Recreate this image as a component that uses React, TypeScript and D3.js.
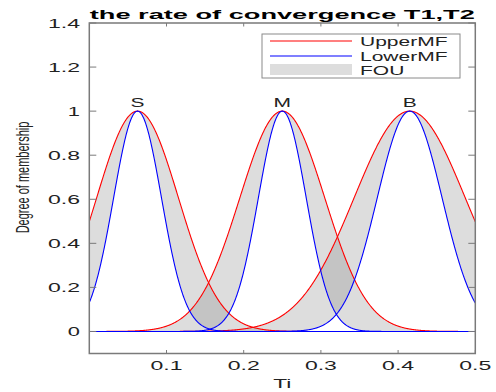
import React from "react";
import * as d3 from "d3";

// Membership-function parameters
const mfNames = ["S", "M", "B"];
const centers = [0.0625, 0.25, 0.415];
const upperSigmas = [0.053, 0.055, 0.072];
const lowerSigmas = [0.031, 0.031, 0.042];

const xTicks = [0.1, 0.2, 0.3, 0.4, 0.5];
const xTickLabels = ["0.1", "0.2", "0.3", "0.4", "0.5"];
const yTicks = [0, 0.2, 0.4, 0.6, 0.8, 1, 1.2, 1.4];
const yTickLabels = ["0", "0.2", "0.4", "0.6", "0.8", "1", "1.2", "1.4"];
const legendLabels = ["UpperMF", "LowerMF", "FOU"];

const W = 496;
const H = 392;
const SX = 1.75;
const FONT = "'Liberation Sans', Arial, sans-serif";

const L = 89.3, R = 475.3, T = 23, B = 353.5;

const x = d3.scaleLinear().domain([0, 0.5]).range([L, R]);
const y = d3.scaleLinear().domain([-0.1, 1.4]).range([B, T]);

const gauss = (v: number, c: number, s: number) => Math.exp(-((v - c) ** 2) / (2 * s * s));
const xs = d3.range(0, 0.5 + 1e-9, 0.0005);

function Txt(props: any) {
  const { x: px, y: py, anchor = "start", size = 12.5, weight = "normal", fill = "#222", rotate = 0, textLength, children } = props;
  const tr = `translate(${px},${py}) scale(${SX},1)` + (rotate ? ` rotate(${rotate})` : "");
  return (
    <text
      transform={tr}
      textAnchor={anchor}
      fontSize={size}
      fontWeight={weight}
      fontFamily={FONT}
      fill={fill}
      textLength={textLength}
      lengthAdjust={textLength ? "spacingAndGlyphs" : undefined}
    >
      {children}
    </text>
  );
}

const tickLen = (s: string) => (s.length >= 3 ? 32 / SX : undefined);

export default function App() {
  const line = d3.line<number[]>().x((d) => x(d[0])).y((d) => y(d[1]));
  const area = d3
    .area<number[]>()
    .x((d) => x(d[0]))
    .y0((d) => y(d[1]))
    .y1((d) => y(d[2]));

  const mfs = centers.map((c, i) => {
    const pts = xs.map((v) => [v, gauss(v, c, upperSigmas[i]), gauss(v, c, lowerSigmas[i])]);
    return {
      upper: line(pts.map((p) => [p[0], p[1]])) || "",
      lower: line(pts.map((p) => [p[0], p[2]])) || "",
      fou: area(pts) || "",
    };
  });

  const axisColor = "#7a7a7a";

  return (
    <svg width={W} height={H} style={{ position: "absolute", left: 0, top: 0, background: "#fff" }}>
      <rect x={0} y={0} width={W} height={H} fill="#fff" />
      <defs>
        <clipPath id="plotclip">
          <rect x={L} y={T} width={R - L} height={B - T} />
        </clipPath>
      </defs>

      <g clipPath="url(#plotclip)">
        {mfs.map((m, i) => (
          <path key={"f" + i} d={m.fou} fill="#808080" fillOpacity={0.27} stroke="none" />
        ))}
        {mfs.map((m, i) => (
          <path key={"u" + i} d={m.upper} fill="none" stroke="#f00" strokeWidth={1.1} />
        ))}
        {mfs.map((m, i) => (
          <path key={"l" + i} d={m.lower} fill="none" stroke="#00f" strokeWidth={1.1} />
        ))}
      </g>

      {/* axes box */}
      <rect x={L} y={T} width={R - L} height={B - T} fill="none" stroke={axisColor} strokeWidth={1.5} />

      {/* x ticks */}
      {xTicks.map((t, i) => (
        <g key={"xt" + i}>
          <line x1={x(t)} x2={x(t)} y1={B} y2={B - 3.5} stroke={axisColor} strokeWidth={1} />
          <line x1={x(t)} x2={x(t)} y1={T} y2={T + 3.5} stroke={axisColor} strokeWidth={1} />
          <Txt x={x(t)} y={370} anchor="middle" textLength={tickLen(xTickLabels[i])}>{xTickLabels[i]}</Txt>
        </g>
      ))}

      {/* y ticks */}
      {yTicks.map((t, i) => (
        <g key={"yt" + i}>
          <line x1={L} x2={L + 7} y1={y(t)} y2={y(t)} stroke={axisColor} strokeWidth={1} />
          <line x1={R} x2={R - 7} y1={y(t)} y2={y(t)} stroke={axisColor} strokeWidth={1} />
          <Txt x={80} y={y(t) + 4.5} anchor="end" textLength={tickLen(yTickLabels[i])}>{yTickLabels[i]}</Txt>
        </g>
      ))}

      {/* MF names */}
      {mfNames.map((n, i) => (
        <Txt key={"n" + i} x={x(centers[i])} y={107} anchor="middle" size={12}>{n}</Txt>
      ))}

      {/* title */}
      <Txt x={(L + R) / 2} y={18.5} anchor="middle" size={12} weight="bold" fill="#000" textLength={385 / SX}>
        the rate of convergence T1,T2
      </Txt>

      {/* axis labels */}
      <Txt x={(L + R) / 2} y={388} anchor="middle" size={13}>Ti</Txt>
      <Txt x={29} y={177.5} anchor="middle" size={11} rotate={-90}>Degree of membership</Txt>

      {/* legend */}
      <g>
        <rect x={262} y={34} width={198} height={44} fill="#fff" stroke="#8a8a8a" strokeWidth={1} />
        <line x1={270} x2={352} y1={41} y2={41} stroke="#f00" strokeWidth={1.1} />
        <line x1={270} x2={352} y1={56} y2={56} stroke="#00f" strokeWidth={1.1} />
        <rect x={270} y={64} width={82} height={11} fill="#808080" fillOpacity={0.27} />
        <Txt x={360} y={46} size={12}>{legendLabels[0]}</Txt>
        <Txt x={360} y={60.5} size={12}>{legendLabels[1]}</Txt>
        <Txt x={360} y={74.5} size={12}>{legendLabels[2]}</Txt>
      </g>
    </svg>
  );
}
